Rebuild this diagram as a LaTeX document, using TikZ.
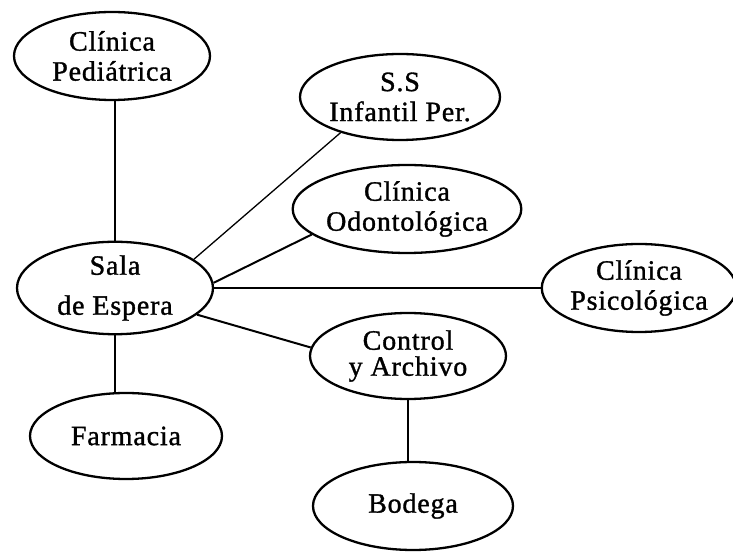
\documentclass[tikz,border=0pt]{standalone}
\usepackage{fontspec}
\setmainfont[LetterSpace=3,FakeBold=1.2]{Liberation Serif}
\usetikzlibrary{shapes.geometric}
\begin{document}
\begin{tikzpicture}[x=1pt,y=1pt,
  place/.style={ellipse,draw,line width=2.3pt,inner sep=0pt,align=center,
    font=\fontsize{28}{30}\selectfont},
  link/.style={line width=2pt},
  thinlink/.style={line width=1.3pt}]
\useasboundingbox (0,0) rectangle (733,554);
\node[place,minimum width=196,minimum height=88] (ped) at (112,498) {Clínica\\Pediátrica};
\node[place,minimum width=194,minimum height=86] (ss) at (400,457) {S.S\\Infantil Per.};
\node[place,minimum width=190,minimum height=88] (odo) at (407,345) {Clínica\\Odontológica};
\node[place,minimum width=196,minimum height=90,font=\fontsize{28}{40}\selectfont] (sala) at (115,266) {Sala\\de Espera};
\node[place,minimum width=186,minimum height=88] (psico) at (639,266) {Clínica\\Psicológica};
\node[place,minimum width=196,minimum height=86,font=\fontsize{28}{26}\selectfont] (ctrl) at (408,198) {Control\\y Archivo};
\node[place,minimum width=192,minimum height=86] (farm) at (126,118) {Farmacia};
\node[place,minimum width=200,minimum height=88] (bod) at (413,48) {Bodega};
\draw[link] (sala.north) -- (sala.north |- ped.south);
\draw[link] (sala.south) -- (sala.south |- farm.north);
\draw[thinlink] (sala.20) -- (ss.211);
\draw[link] (sala.3) -- (odo.195);
\draw[link,line width=2.6pt] (sala.east) -- (psico.west);
\draw[link] (sala.-18) -- (ctrl.175);
\draw[link] (ctrl.south) -- (ctrl.south |- bod.north);
\end{tikzpicture}
\end{document}
